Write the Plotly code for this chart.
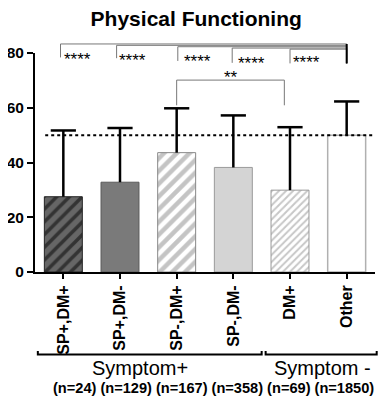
import plotly.graph_objects as go

categories = ["SP+,DM+", "SP+,DM-", "SP-,DM+", "SP-,DM-", "DM+", "Other"]
means = [27.5, 32.8, 43.6, 38.2, 29.9, 50.0]
sd = [24.2, 19.8, 16.2, 19.0, 23.0, 12.3]
n_text = ["(n=24)", "(n=129)", "(n=167)", "(n=358)", "(n=69)", "(n=1850)"]
groups = [("Symptom+", 0, 3), ("Symptom -", 4, 5)]
comparisons = [(0, 5, "****"), (1, 5, "****"), (2, 5, "****"), (3, 5, "****"), (4, 5, "****"), (2, 4, "**")]
ref_line = 50
y_ticks = [0, 20, 40, 60, 80]

FONT = "Arial, 'Liberation Sans', sans-serif"
XMIN, XMAX = -0.5, 5.5
YMAX = 80

def xp(x):
    return (x - XMIN) / (XMAX - XMIN)

def yp(y):
    return y / YMAX

bar_styles = [
    dict(color="#5f5f5f", line=dict(color="#222", width=1),
         pattern=dict(shape="/", fgcolor="black", bgcolor="#666666", size=9, solidity=0.4)),
    dict(color="#7a7a7a", line=dict(color="#5a5a5a", width=1)),
    dict(color="white", line=dict(color="#888", width=1),
         pattern=dict(shape="/", fgcolor="#8a8a8a", bgcolor="white", size=9, solidity=0.5)),
    dict(color="#d4d4d4", line=dict(color="#9a9a9a", width=1)),
    dict(color="white", line=dict(color="#999", width=1),
         pattern=dict(shape="/", fgcolor="#8f8f8f", bgcolor="white", size=5, solidity=0.4)),
    dict(color="white", line=dict(color="#b0b0b0", width=1.5)),
]

fig = go.Figure()
for i, c in enumerate(categories):
    fig.add_trace(go.Bar(
        x=[i], y=[means[i]], width=0.67,
        marker=bar_styles[i],
        error_y=dict(type="data", symmetric=False, array=[sd[i]], arrayminus=[0],
                     color="black", thickness=2.5, width=0),
        showlegend=False,
    ))
# error-bar caps (upper only)
fig.add_trace(go.Scatter(
    x=list(range(len(categories))), y=[m + s for m, s in zip(means, sd)],
    mode="markers", marker=dict(symbol="line-ew", size=18, line=dict(color="black", width=2.5)),
    showlegend=False, hoverinfo="skip",
))

shapes = []
annotations = []

# reference dotted line
shapes.append(dict(type="line", xref="paper", yref="y", x0=0.03, x1=1.0, y0=ref_line, y1=ref_line,
                   line=dict(color="black", width=2, dash="dot")))

# significance brackets
top_levels = [83.3, 82.8, 82.3, 81.8, 81.4]
drop_levels = [78.4, 78.1, 77.1, 76.4, 76.2]
text_levels = [82.0, 81.3, 81.0, 80.4, 80.8]
left_off = [-0.05, -0.06, 0.02, -0.02, 0.0]
text_off = [0.025, 0.01, 0.07, 0.07, 0.01]
k = 0
for (a, b, lab) in comparisons:
    if b == 5 and k < 5:
        xa = a + left_off[k]
        top = yp(top_levels[k]); drop = yp(drop_levels[k])
        shapes.append(dict(type="path", xref="x", yref="paper",
                           path=f"M {xa} {drop} L {xa} {top} L {b} {top} L {b} {yp(76.2)}",
                           line=dict(color="#777", width=1)))
        annotations.append(dict(x=xa + text_off[k], y=yp(text_levels[k]), xref="x", yref="paper",
                                text=lab, showarrow=False, xanchor="left", yanchor="top",
                                font=dict(family=FONT, size=17, color="black")))
        k += 1
    else:
        shapes.append(dict(type="path", xref="x", yref="y",
                           path=f"M {a} 60.9 L {a} 70.1 L {b - 0.1} 70.1 L {b - 0.1} 60.9",
                           line=dict(color="#777", width=1)))
        annotations.append(dict(x=(a + b - 0.1) / 2, y=71.1, xref="x", yref="y",
                                text=lab, showarrow=False, xanchor="center", yanchor="middle",
                                font=dict(family=FONT, size=17, color="black")))
# thick right end
shapes.append(dict(type="line", xref="x", yref="paper", x0=5, x1=5, y0=yp(76.2), y1=yp(83.3),
                   line=dict(color="black", width=2)))

# group brackets below
group_ranges = [(-0.45, 3.5), (3.57, 5.53)]
for (name, g0, g1), (xa, xb) in zip(groups, group_ranges):
    pa, pb = xp(xa), xp(xb)
    ybar = -0.377; ytick = -0.361
    shapes.append(dict(type="path", xref="paper", yref="paper",
                       path=f"M {pa} {ytick} L {pa} {ybar} L {pb} {ybar} L {pb} {ytick}",
                       line=dict(color="black", width=2)))
annotations.append(dict(x=(138 - 35) / 332, y=-0.44, xref="paper", yref="paper", text="Symptom+",
                        showarrow=False, xanchor="center", yanchor="middle",
                        font=dict(family=FONT, size=20, color="black")))
annotations.append(dict(x=(316 - 35) / 332, y=-0.44, xref="paper", yref="paper", text="Symptom -",
                        showarrow=False, xanchor="center", yanchor="middle",
                        font=dict(family=FONT, size=20, color="black")))
annotations.append(dict(x=(209.5 - 35) / 332, y=-0.528, xref="paper", yref="paper",
                        text="<b>" + " ".join(n_text) + "</b>",
                        showarrow=False, xanchor="center", yanchor="middle",
                        font=dict(family=FONT, size=14.6, color="black")))

# page body has an 8px margin; figure is sized so the plot lands where the reference has it
fig.update_layout(
    width=381, height=405,
    margin=dict(l=27, r=14, t=45, b=140.5, pad=0, autoexpand=False),
    paper_bgcolor="white", plot_bgcolor="white",
    title=dict(text="<b>Physical Functioning</b>", x=0.494, xanchor="center", y=1 - 11 / 405, yanchor="middle",
               font=dict(family=FONT, size=21, color="black")),
    shapes=shapes, annotations=annotations,
)
fig.update_xaxes(range=[XMIN, XMAX], tickmode="array", tickvals=list(range(len(categories))),
                 ticktext=[f"<b>{c}</b>" for c in categories], tickangle=-90, automargin=False,
                 ticks="outside", ticklen=5, tickwidth=2, tickcolor="black",
                 showline=True, linecolor="black", linewidth=2, showgrid=False, zeroline=False,
                 tickfont=dict(family=FONT, size=16, color="black"))
fig.update_yaxes(range=[0, YMAX], tickmode="array", tickvals=y_ticks,
                 ticktext=[f"<b>{t}</b>" for t in y_ticks], automargin=False,
                 ticks="outside", ticklen=6, tickwidth=2, tickcolor="black",
                 showline=True, linecolor="black", linewidth=2, showgrid=False, zeroline=False,
                 tickfont=dict(family=FONT, size=15.5, color="black"))

fig.write_html("out.html")
